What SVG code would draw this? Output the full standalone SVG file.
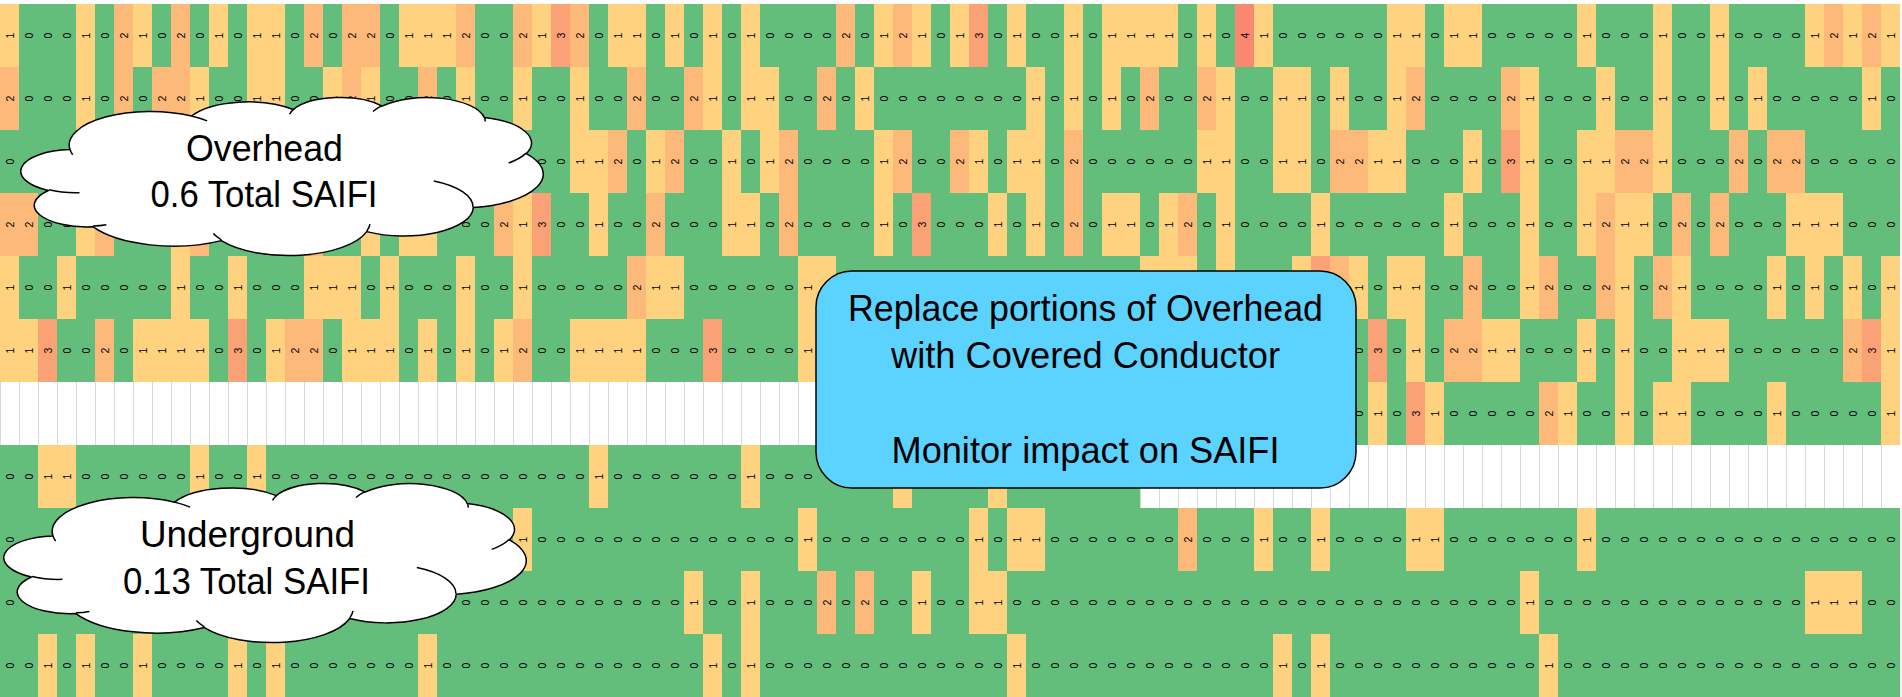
<svg xmlns="http://www.w3.org/2000/svg" width="1902" height="697" viewBox="0 0 1902 697">
<defs>
<style>
.v text{font-family:"Liberation Sans",Arial,sans-serif;font-size:10.5px;fill:#000;text-anchor:middle;dominant-baseline:central}
.lbl{font-family:"Liberation Sans",Arial,sans-serif;font-size:36px;fill:#000}
.cl{fill:#fff;stroke:#000;stroke-width:1.5}
.ci{fill:none;stroke:#000;stroke-width:1.5}
</style>
<rect id="a1" width="1" height="1" fill="#FED27F"/>
<rect id="a2" width="1" height="1" fill="#FCB97A"/>
<rect id="a3" width="1" height="1" fill="#FBA176"/>
<rect id="a4" width="1" height="1" fill="#FA8871"/>
<pattern id="gl" width="19" height="63" patternUnits="userSpaceOnUse"><rect width="19" height="63" fill="#fff"/><rect width="1" height="63" fill="#D9D9D9"/></pattern>
<path id="cloud" vector-effect="non-scaling-stroke" stroke-linejoin="round" d="M3900 14370A6753 9190 0 0 1 14005 5202A5333 7267 0 0 1 22456 3432A4365 5945 0 0 1 29833 2481A4857 6595 0 0 1 38318 5576A5333 7273 0 0 1 41818 15459A6775 9220 0 0 1 37404 30203A5785 7867 0 0 1 28556 36813A6752 9215 0 0 1 16480 39264A7720 10543 0 0 1 5805 35470A4360 5918 0 0 1 2113 25548A4345 5945 0 0 1 3900 14370Z"/>
<path id="cloudIn" vector-effect="non-scaling-stroke" d="M4693 26177A4345 5945 0 0 1 2160 25380M6928 34899A4360 5918 0 0 1 5820 35281M16478 39090A6752 9215 0 0 1 15810 37350M28827 34751A6752 9215 0 0 1 28560 36660M34129 22954A5785 7867 0 0 1 37381 30090M41798 15354A5333 7273 0 0 1 40350 18030M38324 5426A4857 6595 0 0 1 38401 6690M29078 3952A4857 6595 0 0 1 29820 2340M22141 4720A4365 5945 0 0 1 22500 3330M14000 5192A6753 9190 0 0 1 15300 6540M4127 15789A6753 9190 0 0 1 3900 14370"/>
</defs>
<rect width="1902" height="697" fill="#fff"/>
<g id="heatmap">
<g transform="translate(0 4) scale(19 63)">
<rect width="100" height="11" fill="#63BE7B"/>
<use href="#a1" x="0"/><use href="#a1" x="4"/><use href="#a1" x="7"/><use href="#a1" x="11"/><use href="#a1" x="13"/><use href="#a1" x="14"/><use href="#a1" x="21"/><use href="#a1" x="22"/><use href="#a1" x="23"/><use href="#a1" x="28"/><use href="#a1" x="32"/><use href="#a1" x="33"/><use href="#a1" x="35"/><use href="#a1" x="37"/><use href="#a1" x="39"/><use href="#a1" x="46"/><use href="#a1" x="48"/><use href="#a1" x="50"/><use href="#a1" x="53"/><use href="#a1" x="56"/><use href="#a1" x="58"/><use href="#a1" x="59"/><use href="#a1" x="60"/><use href="#a1" x="61"/><use href="#a1" x="63"/><use href="#a1" x="66"/><use href="#a1" x="73"/><use href="#a1" x="74"/><use href="#a1" x="76"/><use href="#a1" x="77"/><use href="#a1" x="83"/><use href="#a1" x="87"/><use href="#a1" x="90"/><use href="#a1" x="95"/><use href="#a1" x="97"/><use href="#a1" x="99"/>
<use href="#a2" x="6"/><use href="#a2" x="9"/><use href="#a2" x="16"/><use href="#a2" x="18"/><use href="#a2" x="19"/><use href="#a2" x="24"/><use href="#a2" x="27"/><use href="#a2" x="30"/><use href="#a2" x="44"/><use href="#a2" x="47"/><use href="#a2" x="96"/><use href="#a2" x="98"/><use href="#a3" x="29"/><use href="#a3" x="51"/><use href="#a4" x="65"/>
<use href="#a1" x="4" y="1"/><use href="#a1" x="10" y="1"/><use href="#a1" x="13" y="1"/><use href="#a1" x="14" y="1"/><use href="#a1" x="17" y="1"/><use href="#a1" x="19" y="1"/><use href="#a1" x="24" y="1"/><use href="#a1" x="27" y="1"/><use href="#a1" x="30" y="1"/><use href="#a1" x="37" y="1"/><use href="#a1" x="39" y="1"/><use href="#a1" x="40" y="1"/><use href="#a1" x="45" y="1"/><use href="#a1" x="54" y="1"/><use href="#a1" x="56" y="1"/><use href="#a1" x="58" y="1"/><use href="#a1" x="64" y="1"/><use href="#a1" x="67" y="1"/><use href="#a1" x="68" y="1"/><use href="#a1" x="70" y="1"/><use href="#a1" x="73" y="1"/><use href="#a1" x="80" y="1"/><use href="#a1" x="84" y="1"/><use href="#a1" x="87" y="1"/><use href="#a1" x="90" y="1"/><use href="#a1" x="92" y="1"/><use href="#a1" x="98" y="1"/>
<use href="#a2" x="0" y="1"/><use href="#a2" x="6" y="1"/><use href="#a2" x="8" y="1"/><use href="#a2" x="9" y="1"/><use href="#a2" x="18" y="1"/><use href="#a2" x="22" y="1"/><use href="#a2" x="33" y="1"/><use href="#a2" x="36" y="1"/><use href="#a2" x="43" y="1"/><use href="#a2" x="60" y="1"/><use href="#a2" x="63" y="1"/><use href="#a2" x="74" y="1"/><use href="#a2" x="79" y="1"/>
<use href="#a1" x="30" y="2"/><use href="#a1" x="31" y="2"/><use href="#a1" x="34" y="2"/><use href="#a1" x="38" y="2"/><use href="#a1" x="40" y="2"/><use href="#a1" x="46" y="2"/><use href="#a1" x="51" y="2"/><use href="#a1" x="53" y="2"/><use href="#a1" x="54" y="2"/><use href="#a1" x="63" y="2"/><use href="#a1" x="64" y="2"/><use href="#a1" x="67" y="2"/><use href="#a1" x="68" y="2"/><use href="#a1" x="72" y="2"/><use href="#a1" x="73" y="2"/><use href="#a1" x="77" y="2"/><use href="#a1" x="80" y="2"/><use href="#a1" x="83" y="2"/><use href="#a1" x="84" y="2"/><use href="#a1" x="87" y="2"/>
<use href="#a2" x="32" y="2"/><use href="#a2" x="35" y="2"/><use href="#a2" x="41" y="2"/><use href="#a2" x="47" y="2"/><use href="#a2" x="50" y="2"/><use href="#a2" x="56" y="2"/><use href="#a2" x="70" y="2"/><use href="#a2" x="71" y="2"/><use href="#a2" x="85" y="2"/><use href="#a2" x="86" y="2"/><use href="#a2" x="91" y="2"/><use href="#a2" x="93" y="2"/><use href="#a2" x="94" y="2"/><use href="#a3" x="79" y="2"/>
<use href="#a1" x="4" y="3"/><use href="#a1" x="9" y="3"/><use href="#a1" x="19" y="3"/><use href="#a1" x="21" y="3"/><use href="#a1" x="22" y="3"/><use href="#a1" x="27" y="3"/><use href="#a1" x="31" y="3"/><use href="#a1" x="38" y="3"/><use href="#a1" x="39" y="3"/><use href="#a1" x="46" y="3"/><use href="#a1" x="52" y="3"/><use href="#a1" x="54" y="3"/><use href="#a1" x="58" y="3"/><use href="#a1" x="59" y="3"/><use href="#a1" x="61" y="3"/><use href="#a1" x="64" y="3"/><use href="#a1" x="69" y="3"/><use href="#a1" x="76" y="3"/><use href="#a1" x="80" y="3"/><use href="#a1" x="83" y="3"/><use href="#a1" x="85" y="3"/><use href="#a1" x="86" y="3"/><use href="#a1" x="94" y="3"/><use href="#a1" x="95" y="3"/><use href="#a1" x="96" y="3"/>
<use href="#a2" x="0" y="3"/><use href="#a2" x="1" y="3"/><use href="#a2" x="5" y="3"/><use href="#a2" x="10" y="3"/><use href="#a2" x="15" y="3"/><use href="#a2" x="16" y="3"/><use href="#a2" x="26" y="3"/><use href="#a2" x="34" y="3"/><use href="#a2" x="41" y="3"/><use href="#a2" x="56" y="3"/><use href="#a2" x="62" y="3"/><use href="#a2" x="84" y="3"/><use href="#a2" x="88" y="3"/><use href="#a2" x="90" y="3"/><use href="#a3" x="28" y="3"/><use href="#a3" x="48" y="3"/>
<use href="#a1" x="0" y="4"/><use href="#a1" x="3" y="4"/><use href="#a1" x="9" y="4"/><use href="#a1" x="12" y="4"/><use href="#a1" x="16" y="4"/><use href="#a1" x="17" y="4"/><use href="#a1" x="18" y="4"/><use href="#a1" x="20" y="4"/><use href="#a1" x="24" y="4"/><use href="#a1" x="27" y="4"/><use href="#a1" x="34" y="4"/><use href="#a1" x="35" y="4"/><use href="#a1" x="42" y="4"/><use href="#a1" x="43" y="4"/><use href="#a1" x="60" y="4"/><use href="#a1" x="61" y="4"/><use href="#a1" x="62" y="4"/><use href="#a1" x="64" y="4"/><use href="#a1" x="68" y="4"/><use href="#a1" x="71" y="4"/><use href="#a1" x="73" y="4"/><use href="#a1" x="74" y="4"/><use href="#a1" x="80" y="4"/><use href="#a1" x="85" y="4"/><use href="#a1" x="88" y="4"/><use href="#a1" x="93" y="4"/><use href="#a1" x="95" y="4"/><use href="#a1" x="97" y="4"/><use href="#a1" x="99" y="4"/>
<use href="#a2" x="33" y="4"/><use href="#a2" x="70" y="4"/><use href="#a2" x="77" y="4"/><use href="#a2" x="81" y="4"/><use href="#a2" x="84" y="4"/><use href="#a2" x="87" y="4"/><use href="#a3" x="69" y="4"/>
<use href="#a1" x="0" y="5"/><use href="#a1" x="1" y="5"/><use href="#a1" x="7" y="5"/><use href="#a1" x="8" y="5"/><use href="#a1" x="9" y="5"/><use href="#a1" x="10" y="5"/><use href="#a1" x="14" y="5"/><use href="#a1" x="18" y="5"/><use href="#a1" x="19" y="5"/><use href="#a1" x="20" y="5"/><use href="#a1" x="22" y="5"/><use href="#a1" x="24" y="5"/><use href="#a1" x="26" y="5"/><use href="#a1" x="30" y="5"/><use href="#a1" x="31" y="5"/><use href="#a1" x="32" y="5"/><use href="#a1" x="33" y="5"/><use href="#a1" x="42" y="5"/><use href="#a1" x="74" y="5"/><use href="#a1" x="78" y="5"/><use href="#a1" x="79" y="5"/><use href="#a1" x="83" y="5"/><use href="#a1" x="85" y="5"/><use href="#a1" x="88" y="5"/><use href="#a1" x="89" y="5"/><use href="#a1" x="90" y="5"/><use href="#a1" x="99" y="5"/>
<use href="#a2" x="5" y="5"/><use href="#a2" x="15" y="5"/><use href="#a2" x="16" y="5"/><use href="#a2" x="27" y="5"/><use href="#a2" x="76" y="5"/><use href="#a2" x="77" y="5"/><use href="#a2" x="97" y="5"/><use href="#a3" x="2" y="5"/><use href="#a3" x="12" y="5"/><use href="#a3" x="37" y="5"/><use href="#a3" x="72" y="5"/><use href="#a3" x="98" y="5"/>
<use href="#a1" x="72" y="6"/><use href="#a1" x="75" y="6"/><use href="#a1" x="82" y="6"/><use href="#a1" x="85" y="6"/><use href="#a1" x="87" y="6"/><use href="#a1" x="88" y="6"/><use href="#a1" x="93" y="6"/><use href="#a1" x="99" y="6"/><use href="#a2" x="81" y="6"/><use href="#a3" x="74" y="6"/>
<use href="#a1" x="2" y="7"/><use href="#a1" x="3" y="7"/><use href="#a1" x="10" y="7"/><use href="#a1" x="13" y="7"/><use href="#a1" x="31" y="7"/><use href="#a1" x="39" y="7"/><use href="#a1" x="47" y="7"/><use href="#a1" x="52" y="7"/>
<use href="#a1" x="27" y="8"/><use href="#a1" x="42" y="8"/><use href="#a1" x="51" y="8"/><use href="#a1" x="53" y="8"/><use href="#a1" x="54" y="8"/><use href="#a1" x="66" y="8"/><use href="#a1" x="69" y="8"/><use href="#a1" x="74" y="8"/><use href="#a1" x="75" y="8"/><use href="#a1" x="83" y="8"/><use href="#a2" x="62" y="8"/>
<use href="#a1" x="36" y="9"/><use href="#a1" x="39" y="9"/><use href="#a1" x="48" y="9"/><use href="#a1" x="51" y="9"/><use href="#a1" x="52" y="9"/><use href="#a1" x="80" y="9"/><use href="#a1" x="95" y="9"/><use href="#a1" x="96" y="9"/><use href="#a1" x="97" y="9"/><use href="#a2" x="43" y="9"/><use href="#a2" x="45" y="9"/>
<use href="#a1" x="2" y="10"/><use href="#a1" x="4" y="10"/><use href="#a1" x="7" y="10"/><use href="#a1" x="12" y="10"/><use href="#a1" x="14" y="10"/><use href="#a1" x="22" y="10"/><use href="#a1" x="37" y="10"/><use href="#a1" x="39" y="10"/><use href="#a1" x="53" y="10"/><use href="#a1" x="67" y="10"/><use href="#a1" x="69" y="10"/><use href="#a1" x="81" y="10"/>
</g>
<rect x="0" y="382" width="1140" height="63" fill="url(#gl)"/>
<rect x="1140" y="445" width="760" height="63" fill="url(#gl)"/>
<g id="values" class="v" transform="rotate(-90)">
<g transform="translate(-35.5 9.5)"><text y="0">1</text><text y="19">0</text><text y="38">0</text><text y="57">0</text><text y="76">1</text><text y="95">0</text><text y="114">2</text><text y="133">1</text><text y="152">0</text><text y="171">2</text><text y="190">0</text><text y="209">1</text><text y="228">0</text><text y="247">1</text><text y="266">1</text><text y="285">0</text><text y="304">2</text><text y="323">0</text><text y="342">2</text><text y="361">2</text><text y="380">0</text><text y="399">1</text><text y="418">1</text><text y="437">1</text><text y="456">2</text><text y="475">0</text><text y="494">0</text><text y="513">2</text><text y="532">1</text><text y="551">3</text><text y="570">2</text><text y="589">0</text><text y="608">1</text><text y="627">1</text><text y="646">0</text><text y="665">1</text><text y="684">0</text><text y="703">1</text><text y="722">0</text><text y="741">1</text><text y="760">0</text><text y="779">0</text><text y="798">0</text><text y="817">0</text><text y="836">2</text><text y="855">0</text><text y="874">1</text><text y="893">2</text><text y="912">1</text><text y="931">0</text><text y="950">1</text><text y="969">3</text><text y="988">0</text><text y="1007">1</text><text y="1026">0</text><text y="1045">0</text><text y="1064">1</text><text y="1083">0</text><text y="1102">1</text><text y="1121">1</text><text y="1140">1</text><text y="1159">1</text><text y="1178">0</text><text y="1197">1</text><text y="1216">0</text><text y="1235">4</text><text y="1254">1</text><text y="1273">0</text><text y="1292">0</text><text y="1311">0</text><text y="1330">0</text><text y="1349">0</text><text y="1368">0</text><text y="1387">1</text><text y="1406">1</text><text y="1425">0</text><text y="1444">1</text><text y="1463">1</text><text y="1482">0</text><text y="1501">0</text><text y="1520">0</text><text y="1539">0</text><text y="1558">0</text><text y="1577">1</text><text y="1596">0</text><text y="1615">0</text><text y="1634">0</text><text y="1653">1</text><text y="1672">0</text><text y="1691">0</text><text y="1710">1</text><text y="1729">0</text><text y="1748">0</text><text y="1767">0</text><text y="1786">0</text><text y="1805">1</text><text y="1824">2</text><text y="1843">1</text><text y="1862">2</text><text y="1881">1</text></g>
<g transform="translate(-98.5 9.5)"><text y="0">2</text><text y="19">0</text><text y="38">0</text><text y="57">0</text><text y="76">1</text><text y="95">0</text><text y="114">2</text><text y="133">0</text><text y="152">2</text><text y="171">2</text><text y="190">1</text><text y="209">0</text><text y="228">0</text><text y="247">1</text><text y="266">1</text><text y="285">0</text><text y="304">0</text><text y="323">1</text><text y="342">2</text><text y="361">1</text><text y="380">0</text><text y="399">0</text><text y="418">2</text><text y="437">0</text><text y="456">1</text><text y="475">0</text><text y="494">0</text><text y="513">1</text><text y="532">0</text><text y="551">0</text><text y="570">1</text><text y="589">0</text><text y="608">0</text><text y="627">2</text><text y="646">0</text><text y="665">0</text><text y="684">2</text><text y="703">1</text><text y="722">0</text><text y="741">1</text><text y="760">1</text><text y="779">0</text><text y="798">0</text><text y="817">2</text><text y="836">0</text><text y="855">1</text><text y="874">0</text><text y="893">0</text><text y="912">0</text><text y="931">0</text><text y="950">0</text><text y="969">0</text><text y="988">0</text><text y="1007">0</text><text y="1026">1</text><text y="1045">0</text><text y="1064">1</text><text y="1083">0</text><text y="1102">1</text><text y="1121">0</text><text y="1140">2</text><text y="1159">0</text><text y="1178">0</text><text y="1197">2</text><text y="1216">1</text><text y="1235">0</text><text y="1254">0</text><text y="1273">1</text><text y="1292">1</text><text y="1311">0</text><text y="1330">1</text><text y="1349">0</text><text y="1368">0</text><text y="1387">1</text><text y="1406">2</text><text y="1425">0</text><text y="1444">0</text><text y="1463">0</text><text y="1482">0</text><text y="1501">2</text><text y="1520">1</text><text y="1539">0</text><text y="1558">0</text><text y="1577">0</text><text y="1596">1</text><text y="1615">0</text><text y="1634">0</text><text y="1653">1</text><text y="1672">0</text><text y="1691">0</text><text y="1710">1</text><text y="1729">0</text><text y="1748">1</text><text y="1767">0</text><text y="1786">0</text><text y="1805">0</text><text y="1824">0</text><text y="1843">0</text><text y="1862">1</text><text y="1881">0</text></g>
<g transform="translate(-161.5 9.5)"><text y="0">0</text><text y="532">0</text><text y="551">0</text><text y="570">1</text><text y="589">1</text><text y="608">2</text><text y="627">0</text><text y="646">1</text><text y="665">2</text><text y="684">0</text><text y="703">0</text><text y="722">1</text><text y="741">0</text><text y="760">1</text><text y="779">2</text><text y="798">0</text><text y="817">0</text><text y="836">0</text><text y="855">0</text><text y="874">1</text><text y="893">2</text><text y="912">0</text><text y="931">0</text><text y="950">2</text><text y="969">1</text><text y="988">0</text><text y="1007">1</text><text y="1026">1</text><text y="1045">0</text><text y="1064">2</text><text y="1083">0</text><text y="1102">0</text><text y="1121">0</text><text y="1140">0</text><text y="1159">0</text><text y="1178">0</text><text y="1197">1</text><text y="1216">1</text><text y="1235">0</text><text y="1254">0</text><text y="1273">1</text><text y="1292">1</text><text y="1311">0</text><text y="1330">2</text><text y="1349">2</text><text y="1368">1</text><text y="1387">1</text><text y="1406">0</text><text y="1425">0</text><text y="1444">0</text><text y="1463">1</text><text y="1482">0</text><text y="1501">3</text><text y="1520">1</text><text y="1539">0</text><text y="1558">0</text><text y="1577">1</text><text y="1596">1</text><text y="1615">2</text><text y="1634">2</text><text y="1653">1</text><text y="1672">0</text><text y="1691">0</text><text y="1710">0</text><text y="1729">2</text><text y="1748">0</text><text y="1767">2</text><text y="1786">2</text><text y="1805">0</text><text y="1824">0</text><text y="1843">0</text><text y="1862">0</text><text y="1881">0</text></g>
<g transform="translate(-224.5 9.5)"><text y="0">2</text><text y="19">2</text><text y="38">0</text><text y="57">0</text><text y="456">0</text><text y="475">0</text><text y="494">2</text><text y="513">1</text><text y="532">3</text><text y="551">0</text><text y="570">0</text><text y="589">1</text><text y="608">0</text><text y="627">0</text><text y="646">2</text><text y="665">0</text><text y="684">0</text><text y="703">0</text><text y="722">1</text><text y="741">1</text><text y="760">0</text><text y="779">2</text><text y="798">0</text><text y="817">0</text><text y="836">0</text><text y="855">0</text><text y="874">1</text><text y="893">0</text><text y="912">3</text><text y="931">0</text><text y="950">0</text><text y="969">0</text><text y="988">1</text><text y="1007">0</text><text y="1026">1</text><text y="1045">0</text><text y="1064">2</text><text y="1083">0</text><text y="1102">1</text><text y="1121">1</text><text y="1140">0</text><text y="1159">1</text><text y="1178">2</text><text y="1197">0</text><text y="1216">1</text><text y="1235">0</text><text y="1254">0</text><text y="1273">0</text><text y="1292">0</text><text y="1311">1</text><text y="1330">0</text><text y="1349">0</text><text y="1368">0</text><text y="1387">0</text><text y="1406">0</text><text y="1425">0</text><text y="1444">1</text><text y="1463">0</text><text y="1482">0</text><text y="1501">0</text><text y="1520">1</text><text y="1539">0</text><text y="1558">0</text><text y="1577">1</text><text y="1596">2</text><text y="1615">1</text><text y="1634">1</text><text y="1653">0</text><text y="1672">2</text><text y="1691">0</text><text y="1710">2</text><text y="1729">0</text><text y="1748">0</text><text y="1767">0</text><text y="1786">1</text><text y="1805">1</text><text y="1824">1</text><text y="1843">0</text><text y="1862">0</text><text y="1881">0</text></g>
<g transform="translate(-287.5 9.5)"><text y="0">1</text><text y="19">0</text><text y="38">0</text><text y="57">1</text><text y="76">0</text><text y="95">0</text><text y="114">0</text><text y="133">0</text><text y="152">0</text><text y="171">1</text><text y="190">0</text><text y="209">0</text><text y="228">1</text><text y="247">0</text><text y="266">0</text><text y="285">0</text><text y="304">1</text><text y="323">1</text><text y="342">1</text><text y="361">0</text><text y="380">1</text><text y="399">0</text><text y="418">0</text><text y="437">0</text><text y="456">1</text><text y="475">0</text><text y="494">0</text><text y="513">1</text><text y="532">0</text><text y="551">0</text><text y="570">0</text><text y="589">0</text><text y="608">0</text><text y="627">2</text><text y="646">1</text><text y="665">1</text><text y="684">0</text><text y="703">0</text><text y="722">0</text><text y="741">0</text><text y="760">0</text><text y="779">0</text><text y="798">1</text><text y="1349">1</text><text y="1368">0</text><text y="1387">1</text><text y="1406">1</text><text y="1425">0</text><text y="1444">0</text><text y="1463">2</text><text y="1482">0</text><text y="1501">0</text><text y="1520">1</text><text y="1539">2</text><text y="1558">0</text><text y="1577">0</text><text y="1596">2</text><text y="1615">1</text><text y="1634">0</text><text y="1653">2</text><text y="1672">1</text><text y="1691">0</text><text y="1710">0</text><text y="1729">0</text><text y="1748">0</text><text y="1767">1</text><text y="1786">0</text><text y="1805">1</text><text y="1824">0</text><text y="1843">1</text><text y="1862">0</text><text y="1881">1</text></g>
<g transform="translate(-350.5 9.5)"><text y="0">1</text><text y="19">1</text><text y="38">3</text><text y="57">0</text><text y="76">0</text><text y="95">2</text><text y="114">0</text><text y="133">1</text><text y="152">1</text><text y="171">1</text><text y="190">1</text><text y="209">0</text><text y="228">3</text><text y="247">0</text><text y="266">1</text><text y="285">2</text><text y="304">2</text><text y="323">0</text><text y="342">1</text><text y="361">1</text><text y="380">1</text><text y="399">0</text><text y="418">1</text><text y="437">0</text><text y="456">1</text><text y="475">0</text><text y="494">1</text><text y="513">2</text><text y="532">0</text><text y="551">0</text><text y="570">1</text><text y="589">1</text><text y="608">1</text><text y="627">1</text><text y="646">0</text><text y="665">0</text><text y="684">0</text><text y="703">3</text><text y="722">0</text><text y="741">0</text><text y="760">0</text><text y="779">0</text><text y="798">1</text><text y="1349">0</text><text y="1368">3</text><text y="1387">0</text><text y="1406">1</text><text y="1425">0</text><text y="1444">2</text><text y="1463">2</text><text y="1482">1</text><text y="1501">1</text><text y="1520">0</text><text y="1539">0</text><text y="1558">0</text><text y="1577">1</text><text y="1596">0</text><text y="1615">1</text><text y="1634">0</text><text y="1653">0</text><text y="1672">1</text><text y="1691">1</text><text y="1710">1</text><text y="1729">0</text><text y="1748">0</text><text y="1767">0</text><text y="1786">0</text><text y="1805">0</text><text y="1824">0</text><text y="1843">2</text><text y="1862">3</text><text y="1881">1</text></g>
<g transform="translate(-413.5 9.5)"><text y="1349">0</text><text y="1368">1</text><text y="1387">0</text><text y="1406">3</text><text y="1425">1</text><text y="1444">0</text><text y="1463">0</text><text y="1482">0</text><text y="1501">0</text><text y="1520">0</text><text y="1539">2</text><text y="1558">1</text><text y="1577">0</text><text y="1596">0</text><text y="1615">1</text><text y="1634">0</text><text y="1653">1</text><text y="1672">1</text><text y="1691">0</text><text y="1710">0</text><text y="1729">0</text><text y="1748">0</text><text y="1767">1</text><text y="1786">0</text><text y="1805">0</text><text y="1824">0</text><text y="1843">0</text><text y="1862">0</text><text y="1881">1</text></g>
<g transform="translate(-476.5 9.5)"><text y="0">0</text><text y="19">0</text><text y="38">1</text><text y="57">1</text><text y="76">0</text><text y="95">0</text><text y="114">0</text><text y="133">0</text><text y="152">0</text><text y="171">0</text><text y="190">1</text><text y="209">0</text><text y="228">0</text><text y="247">1</text><text y="266">0</text><text y="285">0</text><text y="304">0</text><text y="323">0</text><text y="342">0</text><text y="361">0</text><text y="380">0</text><text y="399">0</text><text y="418">0</text><text y="437">0</text><text y="456">0</text><text y="475">0</text><text y="494">0</text><text y="513">0</text><text y="532">0</text><text y="551">0</text><text y="570">0</text><text y="589">1</text><text y="608">0</text><text y="627">0</text><text y="646">0</text><text y="665">0</text><text y="684">0</text><text y="703">0</text><text y="722">0</text><text y="741">1</text><text y="760">0</text><text y="779">0</text><text y="798">0</text></g>
<g transform="translate(-539.5 9.5)"><text y="0">0</text><text y="513">1</text><text y="532">0</text><text y="551">0</text><text y="570">0</text><text y="589">0</text><text y="608">0</text><text y="627">0</text><text y="646">0</text><text y="665">0</text><text y="684">0</text><text y="703">0</text><text y="722">0</text><text y="741">0</text><text y="760">0</text><text y="779">0</text><text y="798">1</text><text y="817">0</text><text y="836">0</text><text y="855">0</text><text y="874">0</text><text y="893">0</text><text y="912">0</text><text y="931">0</text><text y="950">0</text><text y="969">1</text><text y="988">0</text><text y="1007">1</text><text y="1026">1</text><text y="1045">0</text><text y="1064">0</text><text y="1083">0</text><text y="1102">0</text><text y="1121">0</text><text y="1140">0</text><text y="1159">0</text><text y="1178">2</text><text y="1197">0</text><text y="1216">0</text><text y="1235">0</text><text y="1254">1</text><text y="1273">0</text><text y="1292">0</text><text y="1311">1</text><text y="1330">0</text><text y="1349">0</text><text y="1368">0</text><text y="1387">0</text><text y="1406">1</text><text y="1425">1</text><text y="1444">0</text><text y="1463">0</text><text y="1482">0</text><text y="1501">0</text><text y="1520">0</text><text y="1539">0</text><text y="1558">0</text><text y="1577">1</text><text y="1596">0</text><text y="1615">0</text><text y="1634">0</text><text y="1653">0</text><text y="1672">0</text><text y="1691">0</text><text y="1710">0</text><text y="1729">0</text><text y="1748">0</text><text y="1767">0</text><text y="1786">0</text><text y="1805">0</text><text y="1824">0</text><text y="1843">0</text><text y="1862">0</text><text y="1881">0</text></g>
<g transform="translate(-602.5 9.5)"><text y="0">0</text><text y="456">0</text><text y="475">0</text><text y="494">0</text><text y="513">0</text><text y="532">0</text><text y="551">0</text><text y="570">0</text><text y="589">0</text><text y="608">0</text><text y="627">0</text><text y="646">0</text><text y="665">0</text><text y="684">1</text><text y="703">0</text><text y="722">0</text><text y="741">1</text><text y="760">0</text><text y="779">0</text><text y="798">0</text><text y="817">2</text><text y="836">0</text><text y="855">2</text><text y="874">0</text><text y="893">0</text><text y="912">1</text><text y="931">0</text><text y="950">0</text><text y="969">1</text><text y="988">1</text><text y="1007">0</text><text y="1026">0</text><text y="1045">0</text><text y="1064">0</text><text y="1083">0</text><text y="1102">0</text><text y="1121">0</text><text y="1140">0</text><text y="1159">0</text><text y="1178">0</text><text y="1197">0</text><text y="1216">0</text><text y="1235">0</text><text y="1254">0</text><text y="1273">0</text><text y="1292">0</text><text y="1311">0</text><text y="1330">0</text><text y="1349">0</text><text y="1368">0</text><text y="1387">0</text><text y="1406">0</text><text y="1425">0</text><text y="1444">0</text><text y="1463">0</text><text y="1482">0</text><text y="1501">0</text><text y="1520">1</text><text y="1539">0</text><text y="1558">0</text><text y="1577">0</text><text y="1596">0</text><text y="1615">0</text><text y="1634">0</text><text y="1653">0</text><text y="1672">0</text><text y="1691">0</text><text y="1710">0</text><text y="1729">0</text><text y="1748">0</text><text y="1767">0</text><text y="1786">0</text><text y="1805">1</text><text y="1824">1</text><text y="1843">1</text><text y="1862">0</text><text y="1881">0</text></g>
<g transform="translate(-665.5 9.5)"><text y="0">0</text><text y="19">0</text><text y="38">1</text><text y="57">0</text><text y="76">1</text><text y="95">0</text><text y="114">0</text><text y="133">1</text><text y="152">0</text><text y="171">0</text><text y="190">0</text><text y="209">0</text><text y="228">1</text><text y="247">0</text><text y="266">1</text><text y="285">0</text><text y="304">0</text><text y="323">0</text><text y="342">0</text><text y="361">0</text><text y="380">0</text><text y="399">0</text><text y="418">1</text><text y="437">0</text><text y="456">0</text><text y="475">0</text><text y="494">0</text><text y="513">0</text><text y="532">0</text><text y="551">0</text><text y="570">0</text><text y="589">0</text><text y="608">0</text><text y="627">0</text><text y="646">0</text><text y="665">0</text><text y="684">0</text><text y="703">1</text><text y="722">0</text><text y="741">1</text><text y="760">0</text><text y="779">0</text><text y="798">0</text><text y="817">0</text><text y="836">0</text><text y="855">0</text><text y="874">0</text><text y="893">0</text><text y="912">0</text><text y="931">0</text><text y="950">0</text><text y="969">0</text><text y="988">0</text><text y="1007">1</text><text y="1026">0</text><text y="1045">0</text><text y="1064">0</text><text y="1083">0</text><text y="1102">0</text><text y="1121">0</text><text y="1140">0</text><text y="1159">0</text><text y="1178">0</text><text y="1197">0</text><text y="1216">0</text><text y="1235">0</text><text y="1254">0</text><text y="1273">1</text><text y="1292">0</text><text y="1311">1</text><text y="1330">0</text><text y="1349">0</text><text y="1368">0</text><text y="1387">0</text><text y="1406">0</text><text y="1425">0</text><text y="1444">0</text><text y="1463">0</text><text y="1482">0</text><text y="1501">0</text><text y="1520">0</text><text y="1539">1</text><text y="1558">0</text><text y="1577">0</text><text y="1596">0</text><text y="1615">0</text><text y="1634">0</text><text y="1653">0</text><text y="1672">0</text><text y="1691">0</text><text y="1710">0</text><text y="1729">0</text><text y="1748">0</text><text y="1767">0</text><text y="1786">0</text><text y="1805">0</text><text y="1824">0</text><text y="1843">0</text><text y="1862">0</text><text y="1881">0</text></g>
</g>
</g>
<g id="connectors"/>
<g id="cloud-overhead">
<use href="#cloud" class="cl" transform="translate(23 97) scale(0.012037 0.0036574)"/>
<use href="#cloudIn" class="ci" transform="translate(23 97) scale(0.012037 0.0036574)"/>
<text class="lbl" x="186" y="161" textLength="157" lengthAdjust="spacingAndGlyphs">Overhead</text>
<text class="lbl" x="150.5" y="207" textLength="227" lengthAdjust="spacingAndGlyphs">0.6 Total SAIFI</text>
</g>
<g id="cloud-underground">
<use href="#cloud" class="cl" transform="translate(6 483) scale(0.012037 0.0036806)"/>
<use href="#cloudIn" class="ci" transform="translate(6 483) scale(0.012037 0.0036806)"/>
<text class="lbl" x="140" y="547" textLength="215" lengthAdjust="spacingAndGlyphs">Underground</text>
<text class="lbl" x="123" y="594" textLength="247" lengthAdjust="spacingAndGlyphs">0.13 Total SAIFI</text>
</g>
<g id="action-box">
<rect x="816" y="271" width="540" height="217" rx="36" fill="#5CD3FF" stroke="#000" stroke-width="1.5"/>
<text class="lbl" x="848" y="321" textLength="475" lengthAdjust="spacingAndGlyphs">Replace portions of Overhead</text>
<text class="lbl" x="891" y="368" textLength="389" lengthAdjust="spacingAndGlyphs">with Covered Conductor</text>
<text class="lbl" x="891.5" y="463" textLength="388" lengthAdjust="spacingAndGlyphs">Monitor impact on SAIFI</text>
</g>
</svg>
